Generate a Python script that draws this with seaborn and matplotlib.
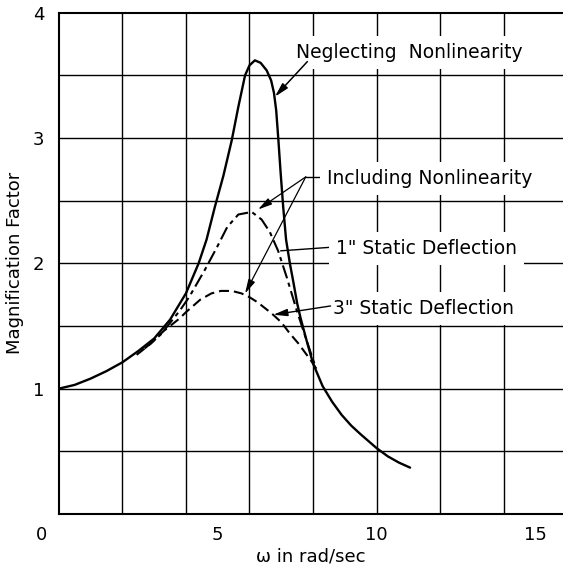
import matplotlib
matplotlib.use("Agg")
import matplotlib.pyplot as plt
import numpy as np
import seaborn as sns

# Magnification factor vs. forcing frequency
omega_neglect = [0, 0.5, 1, 1.5, 2, 2.5, 3, 3.5, 4, 4.4, 4.65, 4.91, 5.18, 5.44, 5.65,
                 5.86, 6.0, 6.17, 6.35, 6.54, 6.68, 6.77, 6.84, 6.91, 6.98, 7.06, 7.15,
                 7.27, 7.38, 7.5, 7.6, 7.8, 8.0, 8.3, 8.6, 8.9, 9.2, 9.5, 9.75, 10.0,
                 10.35, 10.7, 11.05]
mag_neglect = [1.0, 1.03, 1.08, 1.14, 1.21, 1.30, 1.40, 1.55, 1.76, 2.0, 2.19, 2.45,
               2.70, 2.98, 3.25, 3.50, 3.58, 3.62, 3.60, 3.54, 3.46, 3.36, 3.22, 2.98,
               2.72, 2.45, 2.19, 2.0, 1.85, 1.68, 1.57, 1.38, 1.20, 1.02, 0.895, 0.79,
               0.705, 0.635, 0.58, 0.525, 0.46, 0.41, 0.37]

omega_1in = [2.7, 3.2, 3.8, 4.1, 4.6, 5.0, 5.3, 5.65, 6.07, 6.38, 6.64, 6.9, 7.17,
             7.48, 7.75, 8.0, 8.1]
mag_1in = [1.32, 1.43, 1.62, 1.73, 1.95, 2.14, 2.29, 2.39, 2.41, 2.35, 2.25, 2.10,
           1.89, 1.63, 1.42, 1.23, 1.16]

omega_3in = [2.45, 2.9, 3.3, 3.8, 4.0, 4.45, 4.8, 5.1, 5.45, 5.75, 6.0, 6.25, 6.7,
             7.0, 7.27, 7.54, 7.8, 8.0, 8.12]
mag_3in = [1.27, 1.36, 1.46, 1.56, 1.61, 1.71, 1.76, 1.78, 1.78, 1.76, 1.73, 1.69,
           1.60, 1.53, 1.44, 1.36, 1.27, 1.20, 1.15]

x_tick_vals = [5, 10, 15]
y_tick_vals = [1, 2, 3, 4]

sns.set_theme(style="white")
plt.rcParams["font.family"] = ["DejaVu Sans"]

fig = plt.figure(figsize=(5.63, 5.68), dpi=100)
ax = fig.add_axes([0.1043, 0.0951, 0.8957, 0.8825])

sns.lineplot(x=omega_neglect, y=mag_neglect, ax=ax, color="black", lw=1.7,
             sort=False, estimator=None)
sns.lineplot(x=omega_1in, y=mag_1in, ax=ax, color="black", lw=1.5,
             sort=False, estimator=None, linestyle=(0, (6.5, 2.2, 2.0, 2.2)))
sns.lineplot(x=omega_3in, y=mag_3in, ax=ax, color="black", lw=1.5,
             sort=False, estimator=None, linestyle=(0, (4.8, 2.4)))

ax.set_xlim(0, 15.86)
ax.set_ylim(0, 4)

# grid: every 2 rad/sec and every 0.5 in magnification
ax.set_xticks(x_tick_vals)
ax.set_xticks(np.arange(2, 16, 2), minor=True)
ax.xaxis.remove_overlapping_locs = False
ax.set_yticks(y_tick_vals)
ax.set_yticks(np.arange(0.5, 4, 0.5), minor=True)
ax.yaxis.remove_overlapping_locs = False
ax.grid(False)
ax.grid(axis="x", which="minor", color="black", lw=1.0)
ax.grid(axis="y", which="minor", color="black", lw=1.0)
ax.set_axisbelow(True)

ax.set_xticklabels([str(v) for v in x_tick_vals])
ax.set_yticklabels([str(v) for v in y_tick_vals])
ax.tick_params(axis="both", which="both", length=0, labelsize=13, colors="black")
ax.tick_params(axis="x", pad=8.5)
ax.tick_params(axis="y", pad=10.5)
ax.annotate("0", xy=(-0.53, 0), xycoords=("data", "axes fraction"),
            xytext=(0, -8.5), textcoords="offset points", ha="center", va="top",
            fontsize=13, color="black", annotation_clip=False)

for side in ("left", "bottom", "top"):
    ax.spines[side].set_color("black")
    ax.spines[side].set_linewidth(1.5)
ax.spines["right"].set_visible(False)

ax.set_xlabel("ω in rad/sec", fontsize=13, color="black", labelpad=3)
ax.set_ylabel("Magnification Factor", fontsize=13, color="black", labelpad=6)

box = dict(fc="white", ec="none", pad=5)
head = "-|>,head_length=0.7,head_width=0.18"

ax.text(11.02, 3.68, "Neglecting  Nonlinearity", ha="center", va="center",
        fontsize=13.5, color="black", bbox=box)
ax.annotate("", xy=(6.80, 3.33), xytext=(7.82, 3.61),
            arrowprops=dict(arrowstyle=head, color="black", lw=1.1,
                            shrinkA=0, shrinkB=0, mutation_scale=12))

ax.text(8.45, 2.68, "Including Nonlinearity", ha="left", va="center",
        fontsize=13.5, color="black", bbox=box)
ax.plot([7.77, 8.4], [2.69, 2.69], color="black", lw=1.0)
ax.annotate("", xy=(6.27, 2.43), xytext=(7.77, 2.69),
            arrowprops=dict(arrowstyle=head, color="black", lw=0.9,
                            shrinkA=0, shrinkB=0, mutation_scale=12))
ax.annotate("", xy=(5.86, 1.76), xytext=(7.77, 2.69),
            arrowprops=dict(arrowstyle=head, color="black", lw=0.9,
                            shrinkA=0, shrinkB=0, mutation_scale=12))

ax.text(8.72, 2.12, "1\" Static Deflection", ha="left", va="center",
        fontsize=13.5, color="black", bbox=box)
ax.plot([6.98, 8.65], [2.10, 2.13], color="black", lw=1.0)

ax.text(8.62, 1.64, "3\" Static Deflection", ha="left", va="center",
        fontsize=13.5, color="black", bbox=box)
ax.annotate("", xy=(6.75, 1.59), xytext=(8.55, 1.66),
            arrowprops=dict(arrowstyle=head, color="black", lw=1.0,
                            shrinkA=0, shrinkB=0, mutation_scale=12))

fig.savefig("out.png", dpi=100, facecolor="white")
